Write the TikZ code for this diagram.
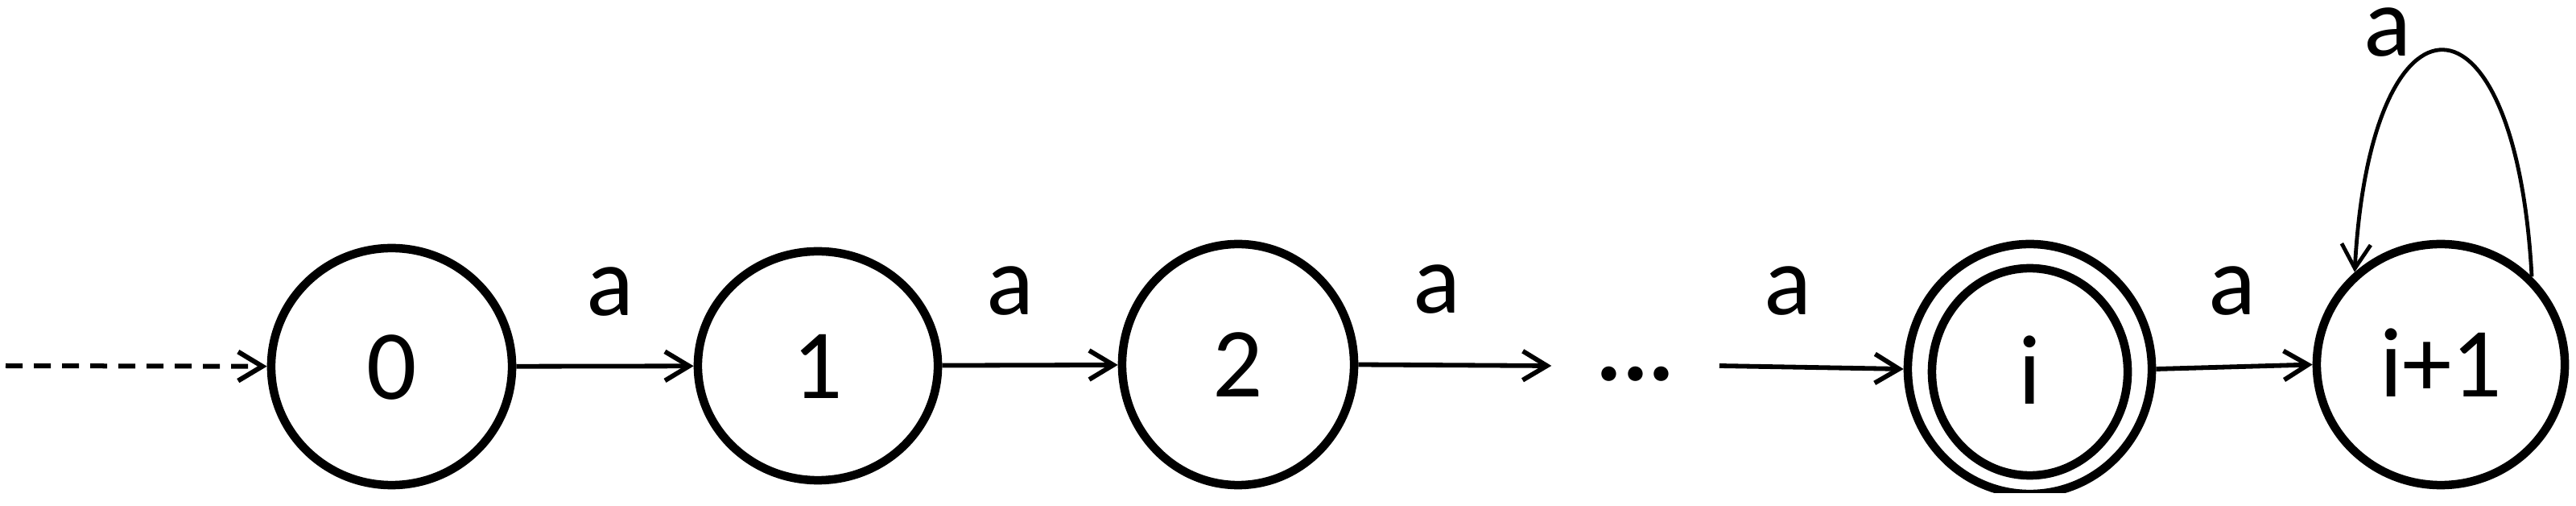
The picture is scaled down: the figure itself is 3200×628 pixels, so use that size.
\documentclass[tikz,border=0pt]{standalone}
\usepackage{fontspec}
\setmainfont{Carlito}
\usetikzlibrary{arrows.meta,shapes.geometric}
\begin{document}
\begin{tikzpicture}[x=0.01cm,y=-0.01cm,
  bigfont/.style={font=\fontsize{35}{42}\selectfont},
  state/.style={ellipse, draw, line width=0.105cm, inner sep=0pt, text height=0.8cm, text depth=0pt, bigfont},
  edge/.style={line width=0.058cm, -{Straight Barb[length=0.3cm,width=0.36cm]}},
  loopedge/.style={line width=0.048cm, -{Straight Barb[length=0.3cm,width=0.36cm]}},
  startedge/.style={line width=0.06cm, dash pattern=on 0.21cm off 0.14cm, -{Straight Barb[length=0.3cm,width=0.36cm]}},
  lbl/.style={bigfont, inner sep=0pt, anchor=base}]
\useasboundingbox (0,0) rectangle (3200,628);
\clip (0,0) rectangle (3200,612);

\node[state, minimum width=2.99cm, minimum height=2.94cm] (q0) at (486.5,455) {0};
\node[state, minimum width=2.98cm, minimum height=2.84cm] (q1) at (1016,454) {1};
\node[state, minimum width=2.88cm, minimum height=2.99cm] (q2) at (1538,452.5) {2};
\node[bigfont, inner sep=0pt, minimum width=2.07cm, text height=0.36cm, text depth=0pt] (dots) at (2031.5,454) {\textbf{...}};
\node[state, minimum width=3.03cm, minimum height=3.10cm] (qi) at (2521.5,458) {};
\node[state, minimum width=2.43cm, minimum height=2.57cm] (qiin) at (2521.5,461.5) {i};
\node[state, minimum width=3.08cm, minimum height=2.99cm] (qip) at (3032,452.5) {i+1};

\coordinate (start) at (7,454);
\draw[startedge] (start) -- (q0);

\draw[edge] (q0) -- node[lbl, midway, xshift=0.06cm, yshift=0.63cm] (a01) {a} (q1);
\draw[edge] (q1) -- node[lbl, midway, xshift=-0.25cm, yshift=0.63cm] (a12) {a} (q2);
\draw[edge] (q2.east) -- node[lbl, midway, xshift=-0.22cm, yshift=0.65cm] (a2d) {a} (dots.west);
\draw[edge] (dots.east) -- node[lbl, midway, xshift=-0.29cm, yshift=0.65cm] (adi) {a} (qi.west);
\draw[edge] (qi.east) -- node[lbl, midway, xshift=-0.03cm, yshift=0.65cm] (aii) {a} (qip.west);

\draw[loopedge] (qip.44) .. controls (3125,-30) and (2945,-30) .. (qip.133);
\node[lbl] (aloop) at (2966,70) {a};
\end{tikzpicture}
\end{document}
